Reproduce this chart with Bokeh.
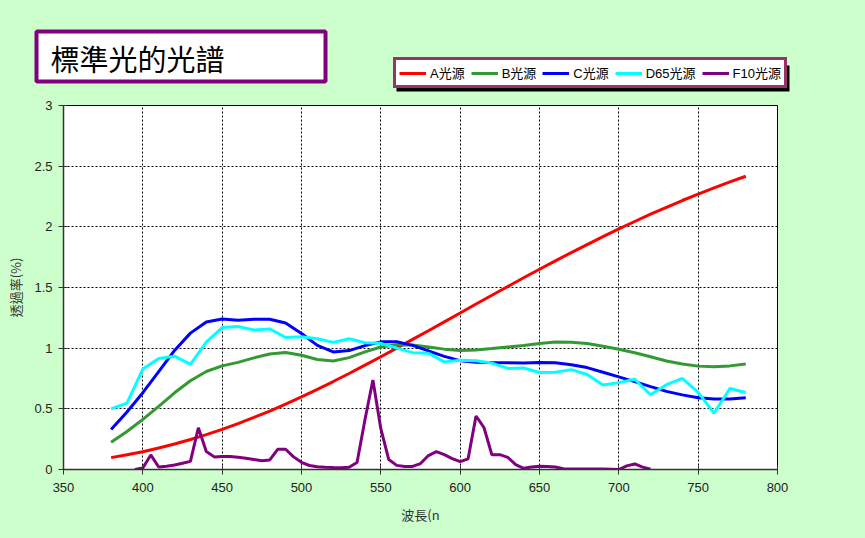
from bokeh.plotting import figure
from bokeh.layouts import column
from bokeh.models import (Range1d, SingleIntervalTicker, NumeralTickFormatter,
                          Legend, LegendItem, BoxAnnotation, Label)
from bokeh.embed import file_html
from bokeh.resources import INLINE

# ---------------- data ----------------
wavelength = [380, 390, 400, 410, 420, 430, 440, 450, 460, 470,
              480, 490, 500, 510, 520, 530, 540, 550, 560, 570,
              580, 590, 600, 610, 620, 630, 640, 650, 660, 670,
              680, 690, 700, 710, 720, 730, 740, 750, 760, 770, 780]

illum_A = [0.098, 0.121, 0.147, 0.177, 0.210, 0.247, 0.287, 0.331, 0.378, 0.429,
           0.482, 0.539, 0.599, 0.661, 0.725, 0.791, 0.860, 0.929, 1.000, 1.072,
           1.144, 1.217, 1.290, 1.364, 1.436, 1.508, 1.580, 1.650, 1.720, 1.788,
           1.854, 1.919, 1.983, 2.044, 2.104, 2.161, 2.217, 2.270, 2.321, 2.370, 2.417]

illum_B = [0.224, 0.313, 0.413, 0.521, 0.632, 0.731, 0.808, 0.854, 0.883, 0.920,
           0.952, 0.965, 0.942, 0.907, 0.895, 0.922, 0.969, 1.010, 1.028, 1.026,
           1.010, 0.992, 0.980, 0.985, 0.997, 1.010, 1.022, 1.039, 1.050, 1.049,
           1.039, 1.016, 0.991, 0.962, 0.929, 0.894, 0.869, 0.852, 0.847, 0.854, 0.870]

illum_C = [0.330, 0.474, 0.633, 0.806, 0.981, 1.124, 1.215, 1.240, 1.231, 1.238,
           1.239, 1.207, 1.121, 1.023, 0.969, 0.980, 1.021, 1.052, 1.053, 1.023,
           0.978, 0.932, 0.897, 0.884, 0.881, 0.880, 0.878, 0.882, 0.879, 0.863,
           0.840, 0.802, 0.763, 0.724, 0.683, 0.644, 0.615, 0.592, 0.581, 0.582, 0.591]

illum_D65 = [0.500, 0.547, 0.828, 0.915, 0.934, 0.867, 1.049, 1.170, 1.178, 1.149,
             1.159, 1.088, 1.094, 1.078, 1.048, 1.077, 1.044, 1.040, 1.000, 0.963,
             0.958, 0.887, 0.900, 0.896, 0.877, 0.833, 0.837, 0.800, 0.802, 0.823,
             0.783, 0.697, 0.716, 0.744, 0.616, 0.699, 0.751, 0.636, 0.464, 0.668, 0.634]

wavelength_F10 = [395, 400, 405, 410, 415, 420, 425, 430, 435, 440,
                  445, 450, 455, 460, 465, 470, 475, 480, 485, 490,
                  495, 500, 505, 510, 515, 520, 525, 530, 535, 540,
                  545, 550, 555, 560, 565, 570, 575, 580, 585, 590,
                  595, 600, 605, 610, 615, 620, 625, 630, 635, 640,
                  645, 650, 655, 660, 665, 670, 675, 680, 685, 690,
                  695, 700, 705, 710, 715, 720]

illum_F10 = [0.000, 0.012, 0.120, 0.021, 0.027, 0.037, 0.051, 0.067, 0.344, 0.149,
             0.104, 0.108, 0.107, 0.101, 0.093, 0.083, 0.073, 0.079, 0.166, 0.167,
             0.104, 0.059, 0.033, 0.023, 0.019, 0.016, 0.015, 0.018, 0.057, 0.410,
             0.737, 0.336, 0.082, 0.034, 0.025, 0.025, 0.049, 0.115, 0.148, 0.122,
             0.090, 0.065, 0.088, 0.441, 0.346, 0.121, 0.122, 0.100, 0.040, 0.010,
             0.020, 0.027, 0.025, 0.020, 0.006, 0.005, 0.005, 0.005, 0.005, 0.004,
             0.002, 0.000, 0.030, 0.046, 0.020, 0.002]

series_names = ["A光源", "B光源", "C光源", "D65光源", "F10光源"]
series_colors = ["#FF0000", "#339933", "#0000FF", "#00FFFF", "#800080"]

title_text = "標準光的光譜"
x_label = "波長(n"
y_label = "透過率(%)"

FONT = "'Liberation Sans', 'Noto Sans CJK TC', sans-serif"
CJK = "'Noto Sans CJK TC', sans-serif"
BG = "#CCFFCC"
TOP_H = 95

# ---------------- header strip: title box + legend ----------------
head = figure(width=865, height=TOP_H, output_backend="svg", toolbar_location=None,
              x_range=Range1d(0, 865), y_range=Range1d(TOP_H, 0),
              x_axis_type=None, y_axis_type=None,
              min_border=0, min_border_left=0, min_border_right=0,
              min_border_top=0, min_border_bottom=0)
head.frame_align = False
head.grid.visible = False
head.outline_line_color = None
head.background_fill_color = BG
head.border_fill_color = BG

head.add_layout(BoxAnnotation(left=36, right=325, top=31, bottom=81,
                              fill_color="white", fill_alpha=1,
                              line_color="#800080", line_alpha=1, line_width=4))
head.add_layout(Label(x=50, y=57, text=title_text, text_font=CJK, text_font_size="29px",
                      text_baseline="middle", text_align="left", text_color="black"))

# legend shadow
head.add_layout(BoxAnnotation(left=396, right=789, top=65, bottom=91,
                              fill_color="black", fill_alpha=1, line_color=None))

# legend keys (not drawn in the strip, only used for the key swatches)
nan = float("nan")
key_renderers = [head.line([nan, nan], [nan, nan], line_color=c, line_width=3)
                 for c in series_colors]
legend = Legend(items=[LegendItem(label=n, renderers=[r]) for n, r in zip(series_names, key_renderers)],
                orientation="horizontal", location=(393, TOP_H - 88),
                glyph_width=27, glyph_height=16, label_height=16, label_standoff=4,
                spacing=6, padding=3, margin=0,
                label_text_font=FONT, label_text_font_size="13px", label_text_color="black",
                border_line_color="#993366", border_line_alpha=1, border_line_width=3,
                background_fill_color="white", background_fill_alpha=1)
head.add_layout(legend)

# ---------------- chart ----------------
p = figure(width=865, height=538 - TOP_H, output_backend="svg", toolbar_location=None,
           x_range=Range1d(350, 800), y_range=Range1d(0, 3),
           min_border_left=63, min_border_right=88, min_border_top=105 - TOP_H,
           min_border_bottom=69)
p.frame_align = False

p.border_fill_color = BG
p.background_fill_color = "white"
p.outline_line_color = "black"
p.outline_line_width = 1

p.xaxis.ticker = SingleIntervalTicker(interval=50)
p.yaxis.ticker = SingleIntervalTicker(interval=0.5)
p.yaxis.formatter = NumeralTickFormatter(format="0.[0]")
for ax in (p.xaxis[0], p.yaxis[0]):
    ax.axis_line_color = "#333333"
    ax.axis_line_width = 1.5
    ax.major_tick_line_color = "#333333"
    ax.major_tick_out = 5
    ax.major_tick_in = 4
    ax.minor_tick_line_color = None
    ax.major_label_text_font = FONT
    ax.major_label_text_font_size = "13px"
    ax.major_label_text_color = "#222222"
    ax.axis_label_text_font = CJK
    ax.axis_label_text_font_size = "13px"
    ax.axis_label_text_font_style = "normal"
    ax.axis_label_text_color = "#333333"
p.xaxis.axis_label = x_label
p.yaxis.axis_label = y_label
p.xaxis.major_label_standoff = 8
p.xaxis.axis_label_standoff = 10
p.yaxis.major_label_standoff = 6
p.yaxis.axis_label_standoff = 6

for g in (p.xgrid[0], p.ygrid[0]):
    g.grid_line_color = "black"
    g.grid_line_dash = "2 2"
    g.grid_line_width = 1
    g.grid_line_alpha = 1.0

for y, c in zip([illum_A, illum_B, illum_C, illum_D65], series_colors[:4]):
    p.line(wavelength, y, line_color=c, line_width=3)
p.line(wavelength_F10, illum_F10, line_color=series_colors[4], line_width=3)

layout = column(head, p, spacing=0)
layout.styles = {"background-color": BG}
open("out.html", "w").write(file_html(layout, INLINE))
